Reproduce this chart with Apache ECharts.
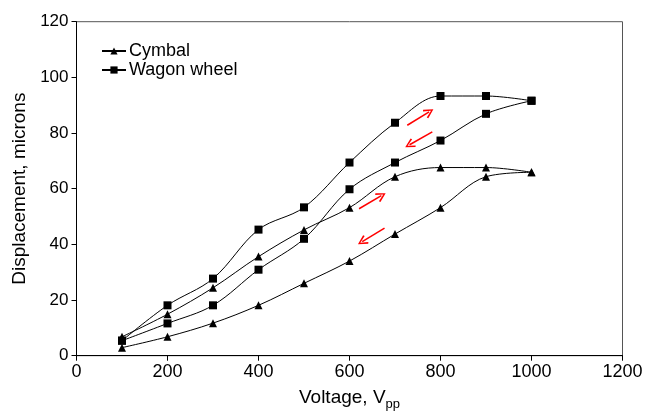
<!DOCTYPE html>
<html>
<head>
<meta charset="utf-8">
<script src="https://cdn.jsdelivr.net/npm/echarts@6/dist/echarts.min.js"></script>
<style>html,body{margin:0;padding:0;background:#fff;}#c{width:646px;height:417px;}</style>
</head>
<body>
<div id="c"></div>
<script>
const voltage = [100, 200, 300, 400, 500, 600, 700, 800, 900, 1000];
const cymbalLower = [2.9, 6.8, 11.7, 18.1, 26.0, 34.0, 43.7, 53.2, 64.3, 65.9];
const cymbalUpper = [6.8, 14.9, 24.4, 35.6, 45.2, 53.2, 64.3, 67.6, 67.6, 65.9];
const wagonLower = [5.4, 11.6, 18.1, 30.9, 42.0, 59.8, 69.4, 77.3, 86.9, 91.6];
const wagonUpper = [5.4, 18.1, 27.7, 45.3, 53.3, 69.4, 83.7, 93.3, 93.3, 91.6];
const xTicks = [0, 200, 400, 600, 800, 1000, 1200];
const yTicks = [0, 20, 40, 60, 80, 100, 120];
// red arrow annotations: [startX, startY, endX, endY] in data units
const arrows = [
  [727, 82.8, 775, 87.6],
  [782, 80.4, 732, 75.8],
  [621, 52.8, 670, 57.5],
  [677, 45.8, 628, 41.0]
];

const FONT = 'Liberation Sans, Arial, sans-serif';
const pair = (ys) => voltage.map((v, i) => [v, ys[i]]);

function lineSeries(name, ys, symbol) {
  return {
    name: name, type: 'line', data: pair(ys), smooth: 0.35,
    symbol: symbol, symbolSize: 8,
    lineStyle: { color: '#000', width: 1 },
    itemStyle: { color: '#000' },
    z: 3
  };
}

const chevron = 'path://M5,0 L10,9 L8.6,10 L5,2.8 L1.4,10 L0,9 Z';

const chart = echarts.init(document.getElementById('c'), null, { renderer: 'canvas' });
chart.setOption({
  animation: false,
  backgroundColor: '#fff',
  textStyle: { fontFamily: FONT },
  grid: { left: 76.5, right: 23.5, top: 21.7, bottom: 61.3, show: true, borderColor: '#555', borderWidth: 1 },
  legend: {
    orient: 'vertical', left: 96, top: 37, itemGap: 1,
    itemWidth: 24, itemHeight: 9,
    data: ['Cymbal', 'Wagon wheel'],
    textStyle: { fontFamily: FONT, fontSize: 18, color: '#000', padding: [0, 0, 0, -2] }
  },
  xAxis: {
    type: 'value', min: xTicks[0], max: xTicks[xTicks.length - 1], interval: 200,
    name: '{a|Voltage, V}{s|pp}', nameLocation: 'middle', nameGap: 33,
    nameTextStyle: {
      rich: {
        a: { fontFamily: FONT, fontSize: 19, color: '#000', verticalAlign: 'top', lineHeight: 21 },
        s: { fontFamily: FONT, fontSize: 13, color: '#000', verticalAlign: 'top', padding: [9, 0, 0, 0], lineHeight: 21 }
      }
    },
    axisLine: { lineStyle: { color: '#000', width: 1 } },
    axisTick: { show: true, length: 5, inside: false, lineStyle: { color: '#000' } },
    axisLabel: { fontFamily: FONT, fontSize: 18, color: '#000', margin: 7, formatter: (v) => String(v) },
    splitLine: { show: false }
  },
  yAxis: {
    type: 'value', min: yTicks[0], max: yTicks[yTicks.length - 1], interval: 20,
    name: 'Displacement, microns', nameLocation: 'middle', nameGap: 46,
    nameTextStyle: { fontFamily: FONT, fontSize: 19, color: '#000' },
    axisLine: { show: true, lineStyle: { color: '#000', width: 1 } },
    axisTick: { show: true, length: 5, inside: false, lineStyle: { color: '#000' } },
    axisLabel: { fontFamily: FONT, fontSize: 17, color: '#000', margin: 8, formatter: (v) => String(v) },
    splitLine: { show: false }
  },
  series: [
    lineSeries('Cymbal', cymbalLower, 'triangle'),
    lineSeries('Cymbal', cymbalUpper, 'triangle'),
    lineSeries('Wagon wheel', wagonLower, 'rect'),
    lineSeries('Wagon wheel', wagonUpper, 'rect'),
    {
      name: 'arrows', type: 'line', data: [], silent: true,
      markLine: {
        silent: true, animation: false,
        symbol: ['none', chevron], symbolSize: 10,
        lineStyle: { color: '#ff0000', width: 1.5, type: 'solid' },
        itemStyle: { color: '#ff0000' },
        label: { show: false },
        data: arrows.map(a => [{ coord: [a[0], a[1]] }, { coord: [a[2], a[3]] }])
      }
    }
  ]
});
</script>
</body>
</html>
